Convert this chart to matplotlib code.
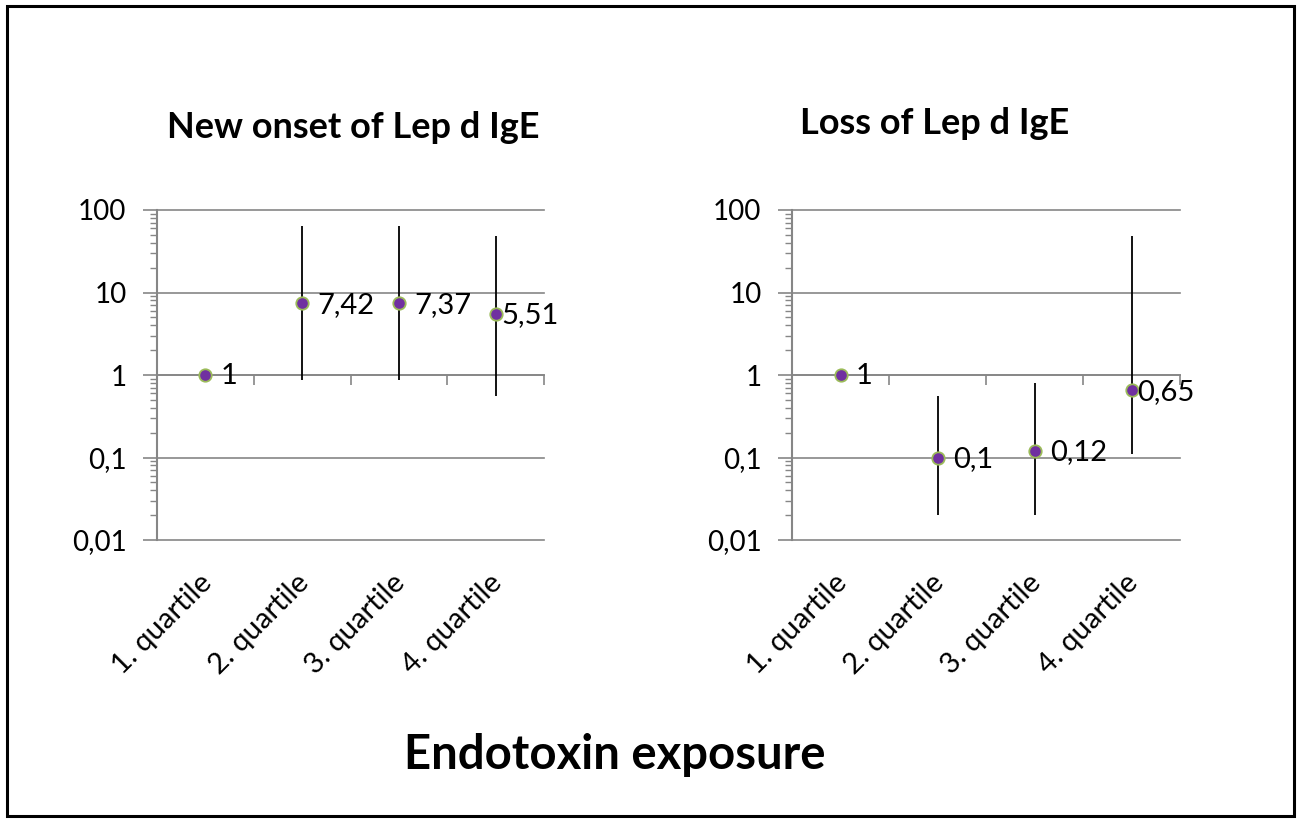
import matplotlib
matplotlib.use("Agg")
import matplotlib.pyplot as plt
import matplotlib.transforms as mtransforms
from matplotlib.ticker import LogLocator, FixedLocator, NullFormatter, FixedFormatter
from matplotlib.patches import Rectangle
import numpy as np

plt.rcParams['font.family'] = ['Lato', 'DejaVu Sans']

categories = ["1. quartile", "2. quartile", "3. quartile", "4. quartile"]

onset_or = [1, 7.42, 7.37, 5.51]
onset_lo = [1, 0.87, 0.86, 0.56]
onset_hi = [1, 64, 64, 48]
onset_labels = ["1", "7,42", "7,37", "5,51"]

loss_or = [1, 0.1, 0.12, 0.65]
loss_lo = [1, 0.02, 0.02, 0.11]
loss_hi = [1, 0.56, 0.81, 48]
loss_labels = ["1", "0,1", "0,12", "0,65"]

ytick_vals = [0.01, 0.1, 1, 10, 100]
ytick_labels = ["0,01", "0,1", "1", "10", "100"]

W, H = 1301, 823
fig = plt.figure(figsize=(W / 100, H / 100), dpi=100)

GRAY = "#868686"
PURPLE = "#7030A0"
GREEN = "#9BBB59"


def px_axes(x0, x1, y0, y1):
    return fig.add_axes([x0 / W, 1 - y1 / H, (x1 - x0) / W, (y1 - y0) / H])


def draw_panel(ax, vals, lo, hi, labels, title, title_xy):
    x = np.arange(len(categories))
    vals = np.array(vals, dtype=float)
    lo = np.array(lo, dtype=float)
    hi = np.array(hi, dtype=float)
    ax.set_yscale('log')
    ax.set_ylim(0.01, 100)
    ax.set_xlim(-0.5, len(categories) - 0.5)

    for v in ytick_vals:
        ax.axhline(v, color=GRAY, lw=1.2, zorder=1, clip_on=False)

    has_err = hi > lo
    ax.vlines(x[has_err], lo[has_err], hi[has_err], color='black', lw=1.3, zorder=3)
    ax.scatter(x, vals, s=80, color=PURPLE, edgecolor=GREEN, linewidth=1.3, zorder=4)
    n = len(x)
    for i, (xi, v, lab) in enumerate(zip(x, vals, labels)):
        dx = 4 if i == n - 1 else 11
        ax.annotate(lab, (xi, v), xytext=(dx, -1), textcoords='offset points',
                    ha='left', va='center', fontsize=21, color='black', zorder=5,
                    annotation_clip=False)

    for s in ['top', 'right']:
        ax.spines[s].set_visible(False)
    ax.spines['left'].set_color(GRAY)
    ax.spines['left'].set_linewidth(1.5)
    ax.spines['bottom'].set_position(('data', 1))
    ax.spines['bottom'].set_color(GRAY)
    ax.spines['bottom'].set_linewidth(1.2)

    ax.yaxis.set_major_locator(FixedLocator(ytick_vals))
    ax.yaxis.set_major_formatter(FixedFormatter(ytick_labels))
    ax.yaxis.set_minor_locator(LogLocator(base=10, subs=np.arange(2, 10)))
    ax.yaxis.set_minor_formatter(NullFormatter())
    ax.tick_params(axis='y', which='major', length=10, width=1.2, color=GRAY,
                   labelsize=20, pad=12, direction='out')
    ax.tick_params(axis='y', which='minor', length=5, width=1.0, color=GRAY, direction='out')

    ax.set_xticks(x + 0.5)
    ax.set_xticklabels([])
    ax.tick_params(axis='x', which='major', length=7, width=1.2, color=GRAY, direction='out')

    trans = mtransforms.blended_transform_factory(ax.transData, ax.transAxes)
    for xi, lab in zip(x, categories):
        ax.text(xi - 0.07, -0.09, lab, transform=trans, rotation=45, ha='right', va='top',
                rotation_mode='anchor', fontsize=21)

    fig.text(title_xy[0] / W, 1 - title_xy[1] / H, title, ha='center', va='center',
             fontsize=26, fontweight='bold')


ax1 = px_axes(157, 544, 210, 540)
draw_panel(ax1, onset_or, onset_lo, onset_hi, onset_labels, "New onset of Lep d IgE", (353, 127))
ax2 = px_axes(792, 1180, 210, 540)
draw_panel(ax2, loss_or, loss_lo, loss_hi, loss_labels, "Loss of Lep d IgE", (935, 124))

fig.text(615 / W, 1 - 755 / H, "Endotoxin exposure", ha='center', va='center',
         fontsize=34, fontweight='bold')

fig.patches.append(Rectangle((7 / W, 7 / H), (W - 14) / W, (H - 13) / H,
                             transform=fig.transFigure, fill=False, edgecolor='black',
                             lw=2.2))

fig.savefig("out.png", dpi=100, facecolor='white')
